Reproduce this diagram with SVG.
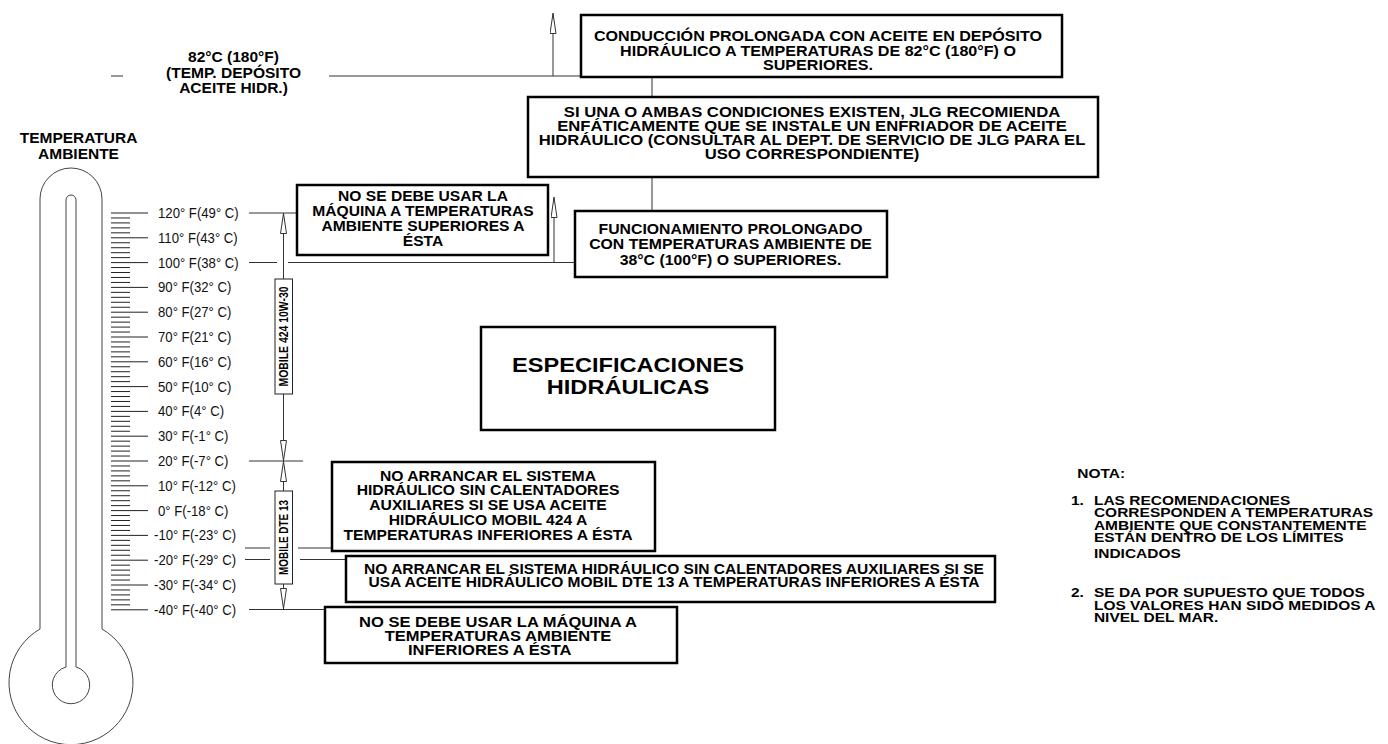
<svg xmlns="http://www.w3.org/2000/svg" width="1388" height="744" viewBox="0 0 1388 744">
<style>
.box{fill:#fff;stroke:#000;stroke-width:2.5}
.ln{stroke:#333;stroke-width:1;fill:none}
.th{stroke:#444;stroke-width:1;fill:none}
.tk{stroke:#222;stroke-width:1}
.t{font-family:"Liberation Sans",Arial,sans-serif;font-weight:bold;fill:#000}
.s{font-family:"Liberation Sans",Arial,sans-serif;fill:#111;font-size:14px}
.v{font-family:"Liberation Sans",Arial,sans-serif;font-weight:bold;fill:#000;font-size:12.5px}
.vb{fill:#fff;stroke:#222;stroke-width:1}
</style>
<defs>
<marker id="oa" viewBox="0 0 21 7" refX="21" refY="3.5" markerWidth="21" markerHeight="7" markerUnits="userSpaceOnUse" orient="auto">
<path d="M0.5,0.5 L20.5,3.5 L0.5,6.5 Z" fill="#fff" stroke="#333" stroke-width="1"/>
</marker>
</defs>
<rect width="1388" height="744" fill="#fff"/>

<g id="thermometer">
<path class="th" d="M40,629 V199 A31,31 0 0 1 102,199 V629 A62,62 0 1 1 40,629 Z"/>
<path class="th" d="M66,667 V200 A5,5 0 0 1 76,200 V667 A18.7,18.7 0 1 1 66,667 Z"/>
</g>

<g id="scale">
<path class="tk" d="M111,213H148M111,237.8H148M111,262.6H148M111,287.4H148M111,312.2H148M111,337H148M111,361.8H148M111,386.6H148M111,411.4H148M111,436.2H148M111,461H148M111,485.8H148M111,510.6H148M111,535.4H148M111,560.2H148M111,585H148M111,609.8H148"/>
<path class="tk" d="M111,217.96H130M111,222.92H130M111,227.88H130M111,232.84H130M111,242.76H130M111,247.72H130M111,252.68H130M111,257.64H130M111,267.56H130M111,272.52H130M111,277.48H130M111,282.44H130M111,292.36H130M111,297.32H130M111,302.28H130M111,307.24H130M111,317.16H130M111,322.12H130M111,327.08H130M111,332.04H130M111,341.96H130M111,346.92H130M111,351.88H130M111,356.84H130M111,366.76H130M111,371.72H130M111,376.68H130M111,381.64H130M111,391.56H130M111,396.52H130M111,401.48H130M111,406.44H130M111,416.36H130M111,421.32H130M111,426.28H130M111,431.24H130M111,441.16H130M111,446.12H130M111,451.08H130M111,456.04H130M111,465.96H130M111,470.92H130M111,475.88H130M111,480.84H130M111,490.76H130M111,495.72H130M111,500.68H130M111,505.64H130M111,515.56H130M111,520.52H130M111,525.48H130M111,530.44H130M111,540.36H130M111,545.32H130M111,550.28H130M111,555.24H130M111,565.16H130M111,570.12H130M111,575.08H130M111,580.04H130M111,589.96H130M111,594.92H130M111,599.88H130M111,604.84H130"/>
<g class="s">
<text transform="translate(158,218) scale(0.94,1)">120° F(49° C)</text>
<text transform="translate(158,242.8) scale(0.94,1)">110° F(43° C)</text>
<text transform="translate(158,267.6) scale(0.94,1)">100° F(38° C)</text>
<text transform="translate(158,292.4) scale(0.94,1)">90° F(32° C)</text>
<text transform="translate(158,317.2) scale(0.94,1)">80° F(27° C)</text>
<text transform="translate(158,342) scale(0.94,1)">70° F(21° C)</text>
<text transform="translate(158,366.8) scale(0.94,1)">60° F(16° C)</text>
<text transform="translate(158,391.6) scale(0.94,1)">50° F(10° C)</text>
<text transform="translate(158,416.4) scale(0.94,1)">40° F(4° C)</text>
<text transform="translate(158,441.2) scale(0.94,1)">30° F(-1° C)</text>
<text transform="translate(158,466) scale(0.94,1)">20° F(-7° C)</text>
<text transform="translate(158,490.8) scale(0.94,1)">10° F(-12° C)</text>
<text transform="translate(158,515.6) scale(0.94,1)">0° F(-18° C)</text>
<text transform="translate(154,540.4) scale(0.94,1)">-10° F(-23° C)</text>
<text transform="translate(154,565.2) scale(0.94,1)">-20° F(-29° C)</text>
<text transform="translate(154,590) scale(0.94,1)">-30° F(-34° C)</text>
<text transform="translate(154,614.8) scale(0.94,1)">-40° F(-40° C)</text>
</g>
</g>

<g id="labels">
<text class="t" font-size="14" text-anchor="middle" transform="translate(233.5,0) scale(1.11,1)"><tspan x="0" y="62">82°C (180°F)</tspan><tspan x="0" y="78">(TEMP. DEPÓSITO</tspan><tspan x="0" y="93.5">ACEITE HIDR.)</tspan></text>
<text class="t" font-size="14.5" text-anchor="middle" transform="translate(78.5,0) scale(1.07,1)"><tspan x="0" y="143.3">TEMPERATURA</tspan><tspan x="0" y="158.7">AMBIENTE</tspan></text>
</g>

<g id="connectors">
<path class="ln" d="M111,76H123M329,76H581"/>
<path class="ln" d="M553,76V13" marker-end="url(#oa)"/>
<path class="ln" d="M652,77V97M652,177V211"/>
<path class="ln" d="M249,213H297"/>
<path class="ln" d="M249,262.5H277M288,262.5H575"/>
<path class="ln" d="M554,262.5V197" marker-end="url(#oa)"/>
<path class="ln" d="M249,461H303"/>
<path class="ln" d="M245,548H270M298,548H332"/>
<path class="ln" d="M245,559.5H270M300,559.5H346"/>
<path class="ln" d="M249,609.5H325"/>
<path class="ln" d="M283.5,279V213" marker-end="url(#oa)"/>
<path class="ln" d="M283.5,394V461" marker-end="url(#oa)"/>
<path class="ln" d="M283.5,491V461" marker-end="url(#oa)"/>
<path class="ln" d="M283.5,584V609" marker-end="url(#oa)"/>
</g>

<g id="mobil424">
<rect class="vb" x="275" y="279" width="17.5" height="115"/>
<text class="v" text-anchor="middle" textLength="100" lengthAdjust="spacingAndGlyphs" transform="translate(288,336.5) rotate(-90)">MOBILE 424 10W-30</text>
</g>
<g id="mobildte13">
<rect class="vb" x="275" y="491" width="17.5" height="93"/>
<text class="v" text-anchor="middle" textLength="75" lengthAdjust="spacingAndGlyphs" transform="translate(288,537.5) rotate(-90)">MOBILE DTE 13</text>
</g>

<g id="conduccion">
<rect class="box" x="581" y="15" width="481" height="62"/>
<text class="t" font-size="14" text-anchor="middle" transform="translate(818,0) scale(1.15,1)"><tspan x="0" y="41.5">CONDUCCIÓN PROLONGADA CON ACEITE EN DEPÓSITO</tspan><tspan x="0" y="56">HIDRÁULICO A TEMPERATURAS DE 82°C (180°F) O</tspan><tspan x="0" y="70.5">SUPERIORES.</tspan></text>
</g>

<g id="recomienda">
<rect class="box" x="528" y="97" width="570" height="80"/>
<text class="t" font-size="14" text-anchor="middle" transform="translate(812,0) scale(1.19,1)"><tspan x="0" y="117.5">SI UNA O AMBAS CONDICIONES EXISTEN, JLG RECOMIENDA</tspan><tspan x="0" y="131.5">ENFÁTICAMENTE QUE SE INSTALE UN ENFRIADOR DE ACEITE</tspan><tspan x="0" y="145.5">HIDRÁULICO (CONSULTAR AL DEPT. DE SERVICIO DE JLG PARA EL</tspan><tspan x="0" y="159">USO CORRESPONDIENTE)</tspan></text>
</g>

<g id="funcionamiento">
<rect class="box" x="575" y="211" width="312" height="66"/>
<text class="t" font-size="14" text-anchor="middle" transform="translate(730.5,0) scale(1.13,1)"><tspan x="0" y="234">FUNCIONAMIENTO PROLONGADO</tspan><tspan x="0" y="249.5">CON TEMPERATURAS AMBIENTE DE</tspan><tspan x="0" y="265">38°C (100°F) O SUPERIORES.</tspan></text>
</g>

<g id="superiores">
<rect class="box" x="297" y="185" width="251" height="70"/>
<text class="t" font-size="15" text-anchor="middle" transform="translate(423,0) scale(1.04,1)"><tspan x="0" y="201.5">NO SE DEBE USAR LA</tspan><tspan x="0" y="216.5">MÁQUINA A TEMPERATURAS</tspan><tspan x="0" y="231.5">AMBIENTE SUPERIORES A</tspan><tspan x="0" y="246.5">ÉSTA</tspan></text>
</g>

<g id="especificaciones">
<rect class="box" x="481" y="327" width="294" height="103"/>
<text class="t" font-size="20" text-anchor="middle" transform="translate(628,0) scale(1.18,1)"><tspan x="0" y="372">ESPECIFICACIONES</tspan><tspan x="0" y="394">HIDRÁULICAS</tspan></text>
</g>

<g id="arrancar424">
<rect class="box" x="332" y="462" width="323" height="89"/>
<text class="t" font-size="14" text-anchor="middle" transform="translate(488,0) scale(1.12,1)"><tspan x="0" y="481">NO ARRANCAR EL SISTEMA</tspan><tspan x="0" y="495.5">HIDRÁULICO SIN CALENTADORES</tspan><tspan x="0" y="510">AUXILIARES SI SE USA ACEITE</tspan><tspan x="0" y="525">HIDRÁULICO MOBIL 424 A</tspan><tspan x="0" y="540">TEMPERATURAS INFERIORES A ÉSTA</tspan></text>
</g>

<g id="arrancardte">
<rect class="box" x="346" y="556" width="649" height="46"/>
<text class="t" font-size="14" text-anchor="middle" transform="translate(674,0) scale(1.11,1)"><tspan x="0" y="574">NO ARRANCAR EL SISTEMA HIDRÁULICO SIN CALENTADORES AUXILIARES SI SE</tspan><tspan x="0" y="587.5">USA ACEITE HIDRÁULICO MOBIL DTE 13 A TEMPERATURAS INFERIORES A ÉSTA</tspan></text>
</g>

<g id="inferiores">
<rect class="box" x="325" y="607" width="352" height="56"/>
<text class="t" font-size="14" text-anchor="middle" transform="translate(498,0) scale(1.18,1)"><tspan x="0" y="627">NO SE DEBE USAR LA MÁQUINA A</tspan><tspan x="0" y="641.5">TEMPERATURAS AMBIENTE</tspan><tspan x="-7" y="655.5">INFERIORES A ÉSTA</tspan></text>
</g>

<g id="nota">
<text class="t" font-size="12.5" transform="translate(1071,0) scale(1.24,1)"><tspan x="5" y="478">NOTA:</tspan><tspan x="0" y="505">1.</tspan><tspan x="18.5" y="505">LAS RECOMENDACIONES</tspan><tspan x="18.5" y="517.5">CORRESPONDEN A TEMPERATURAS</tspan><tspan x="18.5" y="530">AMBIENTE QUE CONSTANTEMENTE</tspan><tspan x="18.5" y="542.5">ESTÁN DENTRO DE LOS LÍMITES</tspan><tspan x="18.5" y="558">INDICADOS</tspan><tspan x="0" y="597.5">2.</tspan><tspan x="18.5" y="597.5">SE DA POR SUPUESTO QUE TODOS</tspan><tspan x="18.5" y="610">LOS VALORES HAN SIDO MEDIDOS A</tspan><tspan x="18.5" y="622.5">NIVEL DEL MAR.</tspan></text>
</g>
</svg>
